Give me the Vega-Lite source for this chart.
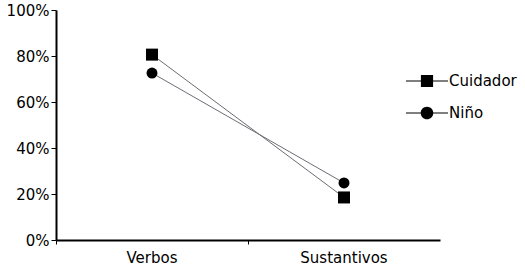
{
  "$schema": "https://vega.github.io/schema/vega-lite/v6.json",
  "autosize": "none",
  "padding": {"left": 56, "top": 10, "right": 85, "bottom": 26},
  "width": 384,
  "height": 230,
  "config": {
    "view": {"stroke": null},
    "font": "DejaVu Sans",
    "axis": {"grid": false, "domainColor": "black", "domainWidth": 2, "tickColor": "black", "tickWidth": 1, "labelColor": "black", "labelFont": "DejaVu Sans", "labelFontSize": 15, "titleFontSize": 15},
    "legend": {"labelFont": "DejaVu Sans", "labelFontSize": 15, "labelColor": "black"}
  },
  "data": {
    "values": [
      {"categoria": "Verbos", "grupo": "Cuidador", "valor": 0.806},
      {"categoria": "Sustantivos", "grupo": "Cuidador", "valor": 0.185},
      {"categoria": "Verbos", "grupo": "Niño", "valor": 0.726},
      {"categoria": "Sustantivos", "grupo": "Niño", "valor": 0.248}
    ]
  },
  "encoding": {
    "x": {"field": "categoria", "type": "nominal", "sort": ["Verbos", "Sustantivos"],
      "scale": {"type": "band", "paddingInner": 0, "paddingOuter": 0},
      "axis": {"title": null, "labelAngle": 0, "bandPosition": 0, "tickSize": 4, "labelPadding": 6}},
    "y": {"field": "valor", "type": "quantitative",
      "scale": {"domain": [0, 1]},
      "axis": {"title": null, "format": ".0%", "values": [0, 0.2, 0.4, 0.6, 0.8, 1], "tickSize": 5, "labelPadding": 2}}
  },
  "layer": [
    {
      "mark": {"type": "line", "strokeWidth": 1, "color": "#6c6c74"},
      "encoding": {
        "detail": {"field": "grupo"}
      }
    },
    {
      "transform": [{"filter": {"field": "grupo", "equal": "Cuidador"}}],
      "mark": {"type": "point", "shape": "square", "filled": true, "opacity": 1, "size": 144, "color": "black"}
    },
    {
      "transform": [{"filter": {"field": "grupo", "equal": "Niño"}}],
      "mark": {"type": "point", "shape": "circle", "filled": true, "opacity": 1, "size": 120, "color": "black"}
    },
    {
      "transform": [{"filter": {"field": "valor", "lt": 0}}],
      "mark": {"type": "point", "filled": true, "opacity": 1, "size": 1764, "color": "black"},
      "encoding": {
        "shape": {"field": "grupo", "type": "nominal",
          "scale": {"domain": ["Cuidador", "Niño"], "range": [
            "M-1,-0.025H-0.28V0.025H-1ZM0.28,-0.025H1V0.025H0.28ZM-0.29,-0.29H0.29V0.29H-0.29Z",
            "M-1,-0.025H-0.28V0.025H-1ZM0.28,-0.025H1V0.025H0.28ZM0.3,0A0.3,0.3,0,1,1,-0.3,0A0.3,0.3,0,1,1,0.3,0Z"
          ]},
          "legend": {"title": null, "orient": "none", "legendX": 349, "legendY": 49, "symbolSize": 1764, "labelOffset": 0, "rowPadding": -22, "symbolOpacity": 1}
        }
      }
    }
  ]
}
